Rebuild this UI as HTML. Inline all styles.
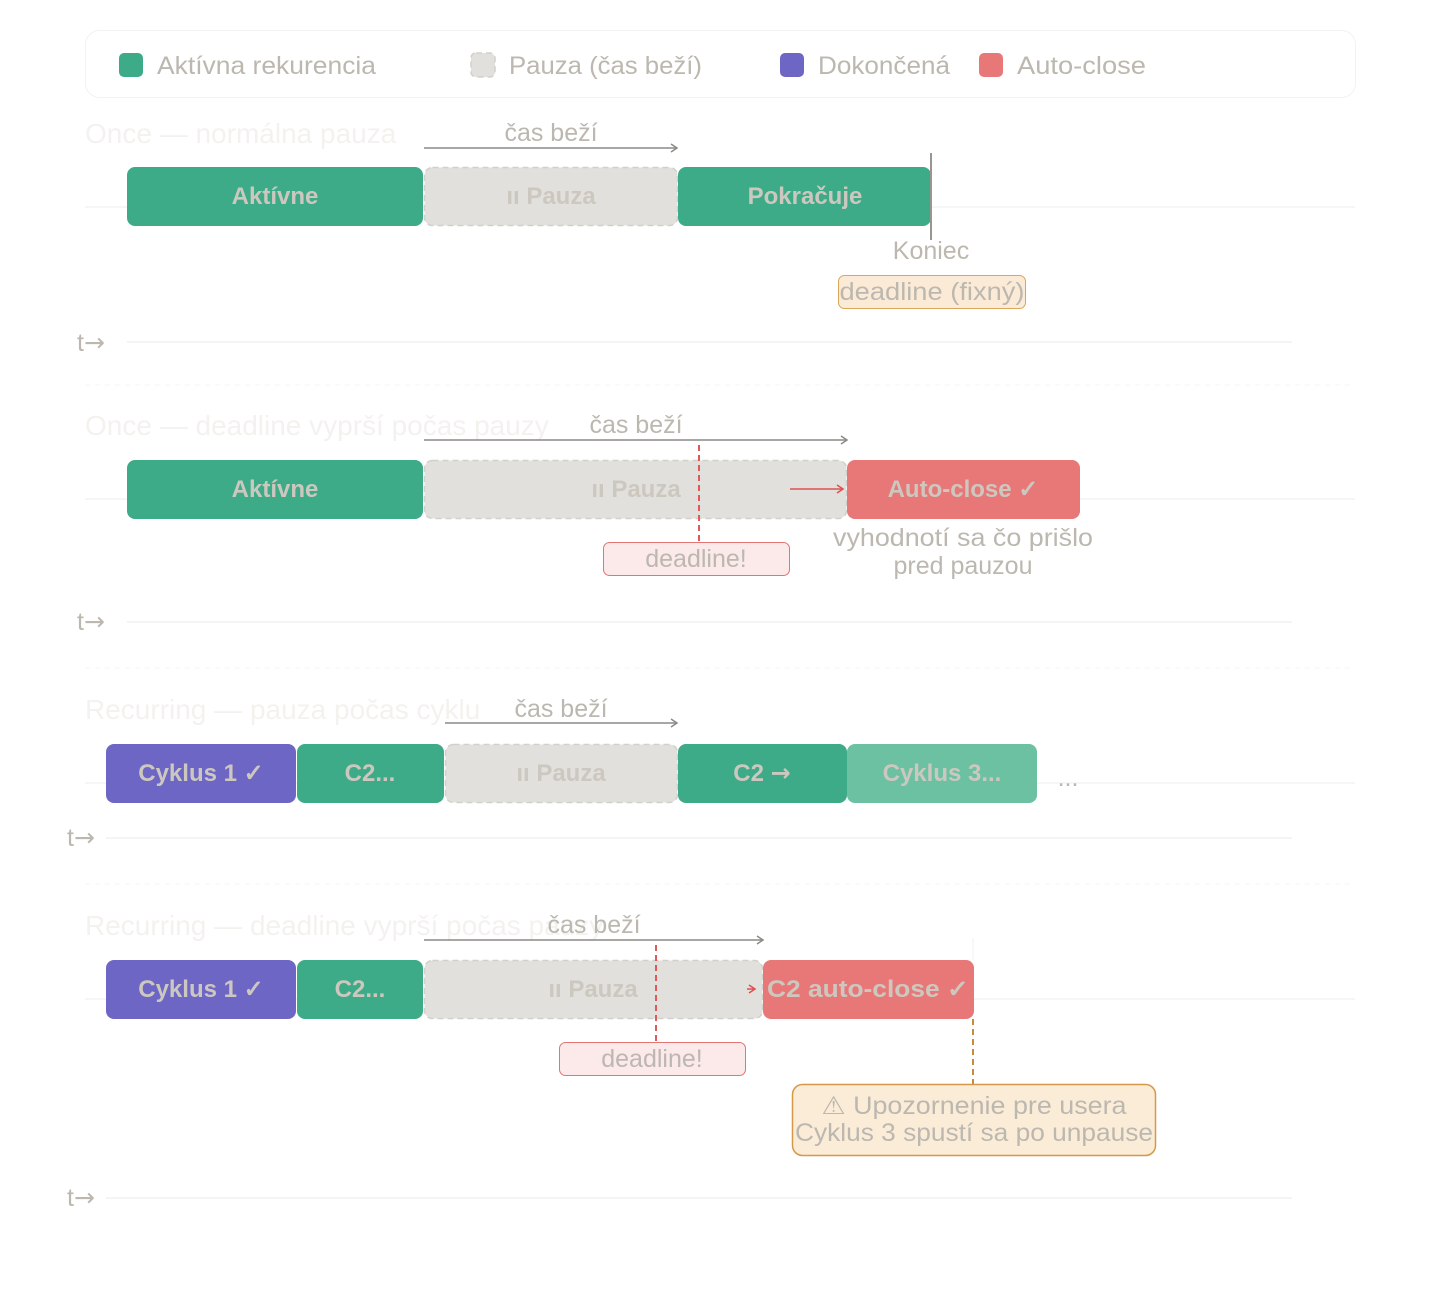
<!DOCTYPE html>
<html><head><meta charset="utf-8"><style>
html,body{margin:0;padding:0;background:#fff;}
svg{display:block;font-family:"Liberation Sans",sans-serif;}
.t{fill:#bcb8b0;font-size:25px;}
.b{fill:#cdc8bf;font-size:24px;font-weight:bold;text-anchor:middle;}
.ti{fill:#f4f2ee;font-size:28px;}
.g{fill:#3dab87;}
.p{fill:#e1e0dc;stroke:#d2d0cb;stroke-width:1.5;stroke-dasharray:6 4;}
.faint{stroke:#f4f4f4;stroke-width:1.5;}
.ax{stroke:#f0f0f0;stroke-width:1.5;}
.arr{stroke:#8c8a85;stroke-width:1.5;fill:none;}
.dv{font-family:"DejaVu Sans",sans-serif;}
</style></head><body>
<svg width="1440" height="1312" viewBox="0 0 1440 1312">
<!-- legend -->
<rect x="85.5" y="30.5" width="1270" height="67" rx="14" fill="#fff" stroke="#f2f2f2"/>
<rect x="119" y="53" width="24" height="24" rx="5" class="g"/>
<text x="157" y="74" class="t" textLength="219" lengthAdjust="spacingAndGlyphs">Aktívna rekurencia</text>
<rect x="471" y="53" width="24" height="24" rx="5" class="p"/>
<text x="509" y="74" class="t" textLength="193" lengthAdjust="spacingAndGlyphs">Pauza (čas beží)</text>
<rect x="780" y="53" width="24" height="24" rx="5" fill="#6e66c4"/>
<text x="818" y="74" class="t" textLength="132" lengthAdjust="spacingAndGlyphs">Dokončená</text>
<rect x="979" y="53" width="24" height="24" rx="5" fill="#e87878"/>
<text x="1017" y="74" class="t" textLength="129" lengthAdjust="spacingAndGlyphs">Auto-close</text>

<!-- section 1 -->
<text x="85" y="143" class="ti">Once — normálna pauza</text>
<line x1="85" y1="207" x2="1355" y2="207" class="faint"/>
<text x="551" y="141" class="t" text-anchor="middle">čas beží</text>
<line x1="424" y1="148" x2="677" y2="148" class="arr"/><path d="M671 144 L677 148 L671 152" class="arr"/>
<rect x="127" y="167" width="296" height="59" rx="8" class="g"/><text x="275" y="204" class="b">Aktívne</text>
<rect x="424.5" y="167.5" width="253" height="58" rx="8" class="p"/><text x="551" y="204" class="b">ıı Pauza</text>
<rect x="678" y="167" width="253" height="59" rx="8" class="g"/><text x="805" y="204" class="b">Pokračuje</text>
<line x1="931" y1="153" x2="931" y2="240" stroke="#999690" stroke-width="2"/>
<text x="931" y="259" class="t" text-anchor="middle">Koniec</text>
<rect x="838.5" y="275.5" width="187" height="33" rx="6" fill="#fbebd6" stroke="#d9a65c"/>
<text x="932" y="300" class="t" text-anchor="middle" textLength="185" lengthAdjust="spacingAndGlyphs">deadline (fixný)</text>
<text x="77" y="351" class="t">t<tspan class="dv">→</tspan></text>
<line x1="127" y1="342" x2="1292" y2="342" class="ax"/>
<line x1="85" y1="385" x2="1355" y2="385" stroke="#f6f6f6" stroke-dasharray="5 5"/>

<!-- section 2 -->
<text x="85" y="435" class="ti">Once — deadline vyprší počas pauzy</text>
<line x1="85" y1="499" x2="1355" y2="499" class="faint"/>
<text x="636" y="433" class="t" text-anchor="middle">čas beží</text>
<line x1="424" y1="440" x2="847" y2="440" class="arr"/><path d="M841 436 L847 440 L841 444" class="arr"/>
<rect x="127" y="460" width="296" height="59" rx="8" class="g"/><text x="275" y="497" class="b">Aktívne</text>
<rect x="424.5" y="460.5" width="422" height="58" rx="8" class="p"/><text x="636" y="497" class="b">ıı Pauza</text>
<rect x="847" y="460" width="233" height="59" rx="8" fill="#e87878"/><text x="963" y="497" class="b">Auto-close ✓</text>
<line x1="699" y1="445" x2="699" y2="542" stroke="#e05858" stroke-width="2" stroke-dasharray="6 4"/>
<line x1="790" y1="489" x2="843" y2="489" stroke="#e05050" stroke-width="1.5"/><path d="M837 485 L843 489 L837 493" stroke="#e05050" stroke-width="1.5" fill="none"/>
<rect x="603.5" y="542.5" width="186" height="33" rx="6" fill="#fce9e9" stroke="#e27474"/>
<text x="696" y="567" class="t" text-anchor="middle">deadline!</text>
<text x="963" y="546" class="t" text-anchor="middle" textLength="260" lengthAdjust="spacingAndGlyphs">vyhodnotí sa čo prišlo</text>
<text x="963" y="574" class="t" text-anchor="middle">pred pauzou</text>
<text x="77" y="630" class="t">t<tspan class="dv">→</tspan></text>
<line x1="127" y1="622" x2="1292" y2="622" class="ax"/>
<line x1="85" y1="668" x2="1355" y2="668" stroke="#f6f6f6" stroke-dasharray="5 5"/>

<!-- section 3 -->
<text x="85" y="719" class="ti">Recurring — pauza počas cyklu</text>
<line x1="85" y1="783" x2="1355" y2="783" class="faint"/>
<text x="561" y="717" class="t" text-anchor="middle">čas beží</text>
<line x1="445" y1="723" x2="677" y2="723" class="arr"/><path d="M671 719 L677 723 L671 727" class="arr"/>
<rect x="106" y="744" width="190" height="59" rx="8" fill="#6e66c4"/><text x="201" y="781" class="b">Cyklus 1 ✓</text>
<rect x="297" y="744" width="147" height="59" rx="8" class="g"/><text x="370" y="781" class="b">C2...</text>
<rect x="445.5" y="744.5" width="232" height="58" rx="8" class="p"/><text x="561" y="781" class="b">ıı Pauza</text>
<rect x="678" y="744" width="169" height="59" rx="8" class="g"/><text x="762" y="781" class="b">C2 <tspan class="dv">→</tspan></text>
<rect x="847" y="744" width="190" height="59" rx="8" fill="#6cc1a3"/><text x="942" y="781" class="b">Cyklus 3...</text>
<text x="1068" y="786" class="t" text-anchor="middle">...</text>
<text x="67" y="846" class="t">t<tspan class="dv">→</tspan></text>
<line x1="106" y1="838" x2="1292" y2="838" class="ax"/>
<line x1="85" y1="884" x2="1355" y2="884" stroke="#f6f6f6" stroke-dasharray="5 5"/>

<!-- section 4 -->
<text x="85" y="935" class="ti">Recurring — deadline vyprší počas pauzy</text>
<line x1="85" y1="999" x2="1355" y2="999" class="faint"/>
<line x1="973" y1="938" x2="973" y2="960" stroke="#f2f2f2"/>
<text x="594" y="933" class="t" text-anchor="middle">čas beží</text>
<line x1="424" y1="940" x2="763" y2="940" class="arr"/><path d="M757 936 L763 940 L757 944" class="arr"/>
<rect x="106" y="960" width="190" height="59" rx="8" fill="#6e66c4"/><text x="201" y="997" class="b">Cyklus 1 ✓</text>
<rect x="297" y="960" width="126" height="59" rx="8" class="g"/><text x="360" y="997" class="b">C2...</text>
<rect x="424.5" y="960.5" width="338" height="58" rx="8" class="p"/><text x="593" y="997" class="b">ıı Pauza</text>
<rect x="763" y="960" width="211" height="59" rx="8" fill="#e87878"/><text x="868" y="997" class="b" textLength="202" lengthAdjust="spacingAndGlyphs">C2 auto-close ✓</text>
<line x1="656" y1="945" x2="656" y2="1042" stroke="#e05858" stroke-width="2" stroke-dasharray="6 4"/>
<path d="M749 985 L755 989 L749 993 M747 989 L755 989" stroke="#e05050" stroke-width="1.5" fill="none"/>
<rect x="559.5" y="1042.5" width="186" height="33" rx="6" fill="#fce9e9" stroke="#e27474"/>
<text x="652" y="1067" class="t" text-anchor="middle">deadline!</text>
<line x1="973" y1="1019" x2="973" y2="1084" stroke="#c98a3a" stroke-width="2" stroke-dasharray="6 4"/>
<rect x="792.5" y="1084.5" width="363" height="71" rx="10" fill="#fbecd8" stroke="#d59848" stroke-width="1.5"/>
<text x="974" y="1114" class="t" text-anchor="middle" textLength="305" lengthAdjust="spacingAndGlyphs">⚠ Upozornenie pre usera</text>
<text x="974" y="1141" class="t" text-anchor="middle" textLength="358" lengthAdjust="spacingAndGlyphs">Cyklus 3 spustí sa po unpause</text>
<text x="67" y="1206" class="t">t<tspan class="dv">→</tspan></text>
<line x1="106" y1="1198" x2="1292" y2="1198" class="ax"/>
</svg>
</body></html>
